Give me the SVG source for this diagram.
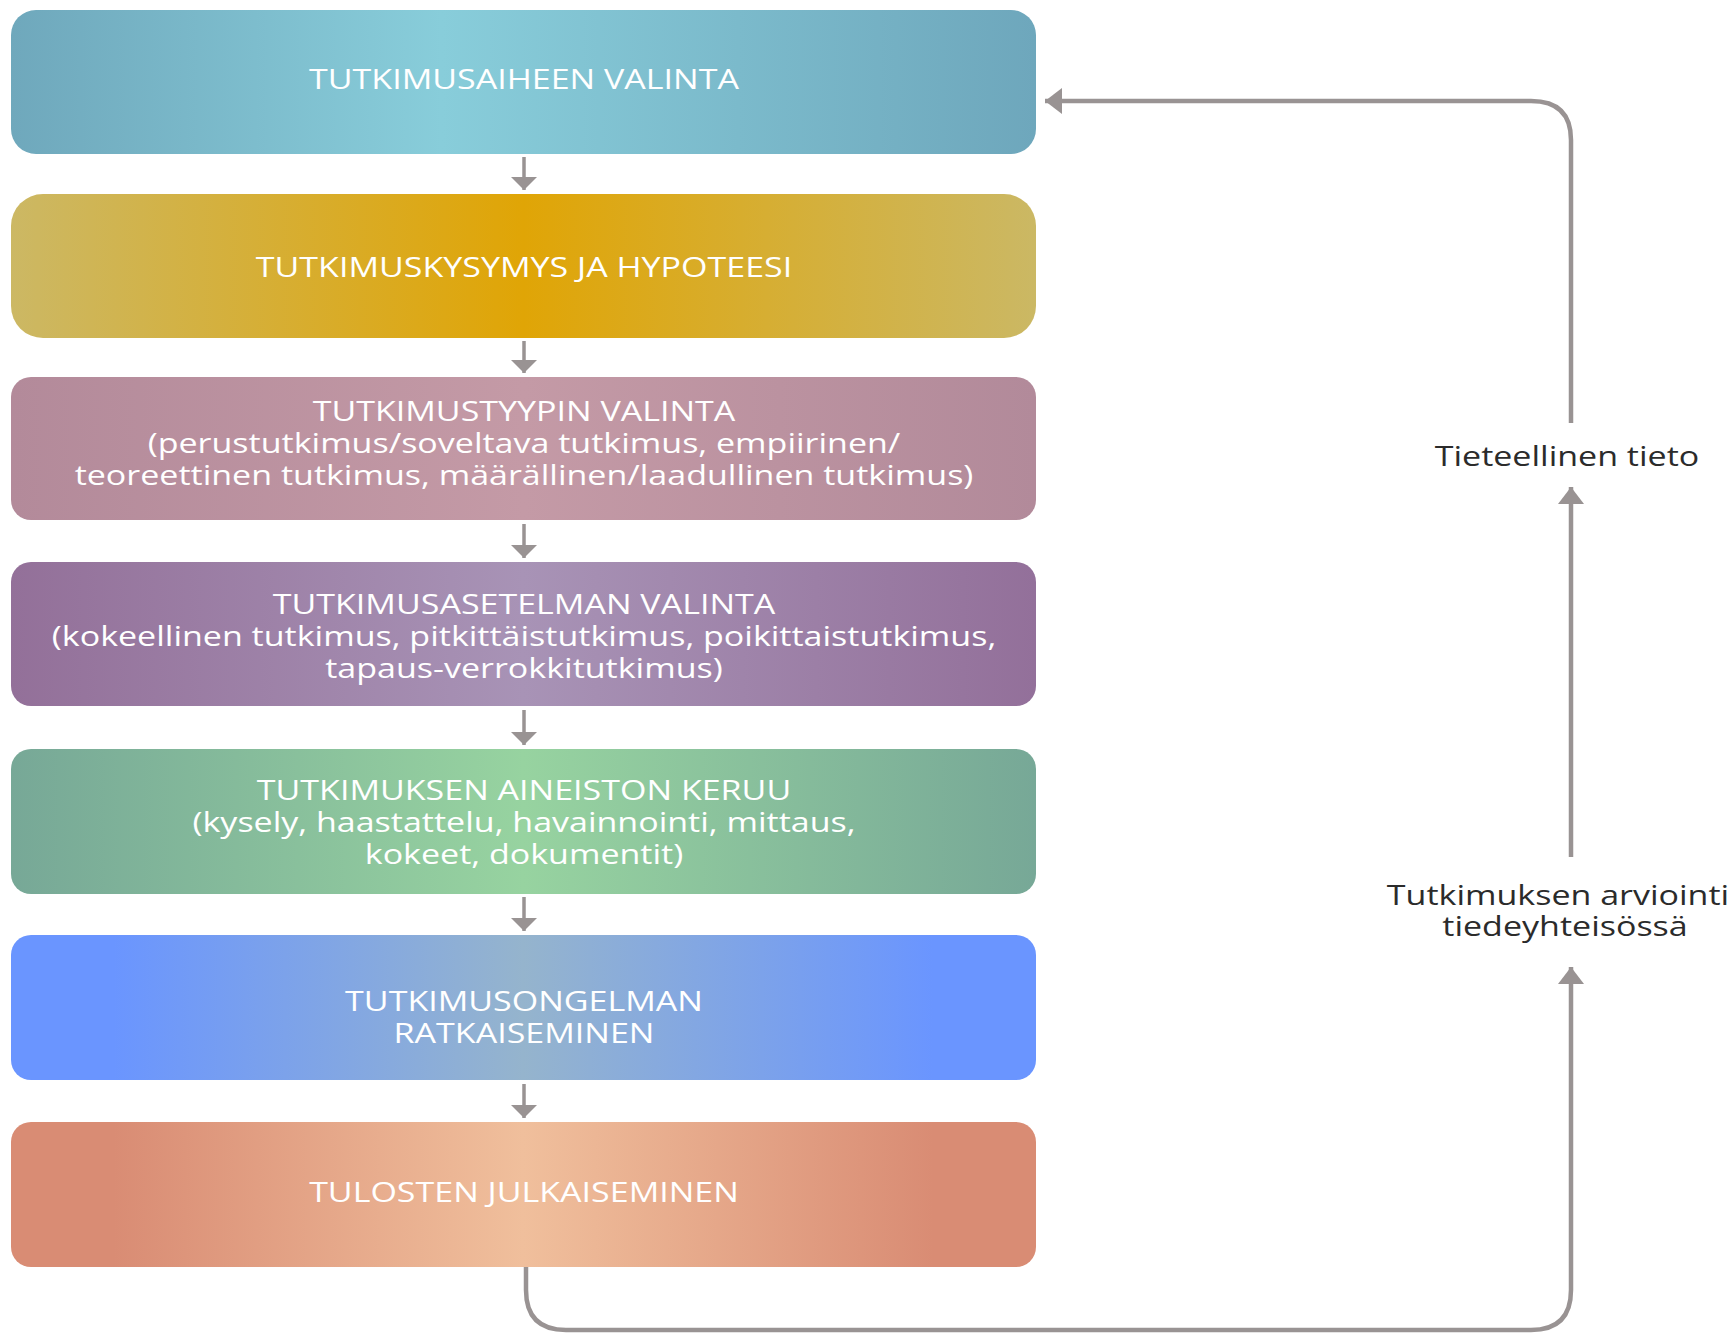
<svg xmlns="http://www.w3.org/2000/svg" width="1735" height="1333" viewBox="0 0 1735 1333">
  <style>
    .box-label { font-family: "Open Sans", "Noto Sans", "DejaVu Sans", sans-serif; font-size: 27px; fill: #ffffff; text-anchor: middle; }
    .side-label { font-family: "Open Sans", "Noto Sans", "DejaVu Sans", sans-serif; font-size: 27px; fill: #2b2b2b; text-anchor: middle; }
    .step { fill: none; stroke: #999393; stroke-width: 3.5; }
    .loop { fill: none; stroke: #999393; stroke-width: 4.5; }
  </style>
  <defs>
    <linearGradient id="g1" x1="0" y1="0" x2="1" y2="0">
      <stop offset="0" stop-color="#6fa8bc"/>
      <stop offset="0.42" stop-color="#88cdda"/>
      <stop offset="1" stop-color="#6ea7bc"/>
    </linearGradient>
    <linearGradient id="g2" x1="0" y1="0" x2="1" y2="0">
      <stop offset="0" stop-color="#ccb864"/>
      <stop offset="0.5" stop-color="#e0a506"/>
      <stop offset="1" stop-color="#cbb864"/>
    </linearGradient>
    <linearGradient id="g3" x1="0" y1="0" x2="1" y2="0">
      <stop offset="0" stop-color="#b38a9a"/>
      <stop offset="0.5" stop-color="#c49aa6"/>
      <stop offset="1" stop-color="#b28a9a"/>
    </linearGradient>
    <linearGradient id="g4" x1="0" y1="0" x2="1" y2="0">
      <stop offset="0" stop-color="#937099"/>
      <stop offset="0.5" stop-color="#a893b6"/>
      <stop offset="1" stop-color="#93709a"/>
    </linearGradient>
    <linearGradient id="g5" x1="0" y1="0" x2="1" y2="0">
      <stop offset="0" stop-color="#77a897"/>
      <stop offset="0.5" stop-color="#97d3a0"/>
      <stop offset="1" stop-color="#77a897"/>
    </linearGradient>
    <linearGradient id="g6" x1="0" y1="0" x2="1" y2="0">
      <stop offset="0" stop-color="#6a95ff"/>
      <stop offset="0.1" stop-color="#6a95ff"/>
      <stop offset="0.5" stop-color="#95b4cd"/>
      <stop offset="0.9" stop-color="#6a95ff"/>
      <stop offset="1" stop-color="#6a95ff"/>
    </linearGradient>
    <linearGradient id="g7" x1="0" y1="0" x2="1" y2="0">
      <stop offset="0" stop-color="#d98c74"/>
      <stop offset="0.1" stop-color="#d98c74"/>
      <stop offset="0.5" stop-color="#f0bf9c"/>
      <stop offset="0.9" stop-color="#d98c74"/>
      <stop offset="1" stop-color="#d98c74"/>
    </linearGradient>
    <marker id="head-small" viewBox="0 0 13 26" refX="13" refY="13" markerWidth="13" markerHeight="26" markerUnits="userSpaceOnUse" orient="auto">
      <path d="M0,0 L13,13 L0,26 Z" fill="#999393"/>
    </marker>
    <marker id="head-loop" viewBox="0 0 17 26" refX="17" refY="13" markerWidth="17" markerHeight="26" markerUnits="userSpaceOnUse" orient="auto">
      <path d="M0,0 L17,13 L0,26 Z" fill="#999393"/>
    </marker>
  </defs>

  <!-- process steps; labels are set in a wide face (horizontal scale 1.26) -->
  <g id="step-aihe">
    <rect x="11" y="10" width="1025" height="144" rx="25" fill="url(#g1)"/>
    <text class="box-label" transform="matrix(1.26 0 0 1 524 89)">TUTKIMUSAIHEEN VALINTA</text>
  </g>
  <g id="step-kysymys">
    <rect x="11" y="194" width="1025" height="144" rx="32" fill="url(#g2)"/>
    <text class="box-label" transform="matrix(1.26 0 0 1 524 277)">TUTKIMUSKYSYMYS JA HYPOTEESI</text>
  </g>
  <g id="step-tyyppi">
    <rect x="11" y="377" width="1025" height="143" rx="20" fill="url(#g3)"/>
    <text class="box-label" transform="matrix(1.26 0 0 1 524 421)">TUTKIMUSTYYPIN VALINTA</text>
    <text class="box-label" transform="matrix(1.26 0 0 1 524 453)">(perustutkimus/soveltava tutkimus, empiirinen/</text>
    <text class="box-label" transform="matrix(1.26 0 0 1 524 485)">teoreettinen tutkimus, määrällinen/laadullinen tutkimus)</text>
  </g>
  <g id="step-asetelma">
    <rect x="11" y="562" width="1025" height="144" rx="20" fill="url(#g4)"/>
    <text class="box-label" transform="matrix(1.26 0 0 1 524 614)">TUTKIMUSASETELMAN VALINTA</text>
    <text class="box-label" transform="matrix(1.26 0 0 1 524 646)">(kokeellinen tutkimus, pitkittäistutkimus, poikittaistutkimus,</text>
    <text class="box-label" transform="matrix(1.26 0 0 1 524 678)">tapaus-verrokkitutkimus)</text>
  </g>
  <g id="step-keruu">
    <rect x="11" y="749" width="1025" height="145" rx="20" fill="url(#g5)"/>
    <text class="box-label" transform="matrix(1.26 0 0 1 524 800)">TUTKIMUKSEN AINEISTON KERUU</text>
    <text class="box-label" transform="matrix(1.26 0 0 1 524 832)">(kysely, haastattelu, havainnointi, mittaus,</text>
    <text class="box-label" transform="matrix(1.26 0 0 1 524 864)">kokeet, dokumentit)</text>
  </g>
  <g id="step-ratkaisu">
    <rect x="11" y="935" width="1025" height="145" rx="20" fill="url(#g6)"/>
    <text class="box-label" transform="matrix(1.26 0 0 1 524 1011)">TUTKIMUSONGELMAN</text>
    <text class="box-label" transform="matrix(1.26 0 0 1 524 1043)">RATKAISEMINEN</text>
  </g>
  <g id="step-julkaisu">
    <rect x="11" y="1122" width="1025" height="145" rx="20" fill="url(#g7)"/>
    <text class="box-label" transform="matrix(1.26 0 0 1 524 1202)">TULOSTEN JULKAISEMINEN</text>
  </g>

  <!-- feedback labels -->
  <g id="label-tieto">
    <text class="side-label" transform="matrix(1.26 0 0 1 1567 466)">Tieteellinen tieto</text>
  </g>
  <g id="label-arviointi">
    <text class="side-label" transform="matrix(1.26 0 0 1 1558 905)">Tutkimuksen arviointi</text>
    <text class="side-label" transform="matrix(1.26 0 0 1 1565 936)">tiedeyhteisössä</text>
  </g>

  <!-- connectors -->
  <g id="connectors">
    <path class="step" d="M524,157 V190" marker-end="url(#head-small)"/>
    <path class="step" d="M524,341 V373" marker-end="url(#head-small)"/>
    <path class="step" d="M524,524 V558" marker-end="url(#head-small)"/>
    <path class="step" d="M524,710 V745" marker-end="url(#head-small)"/>
    <path class="step" d="M524,897 V931" marker-end="url(#head-small)"/>
    <path class="step" d="M524,1084 V1118" marker-end="url(#head-small)"/>
    <path class="loop" d="M526,1267 V1290 Q526,1330 566,1330 H1531 Q1571,1330 1571,1290 V967" marker-end="url(#head-loop)"/>
    <path class="loop" d="M1571,857 V487" marker-end="url(#head-loop)"/>
    <path class="loop" d="M1571,423 V140 Q1571,101 1531,101 H1045" marker-end="url(#head-loop)"/>
  </g>
</svg>
